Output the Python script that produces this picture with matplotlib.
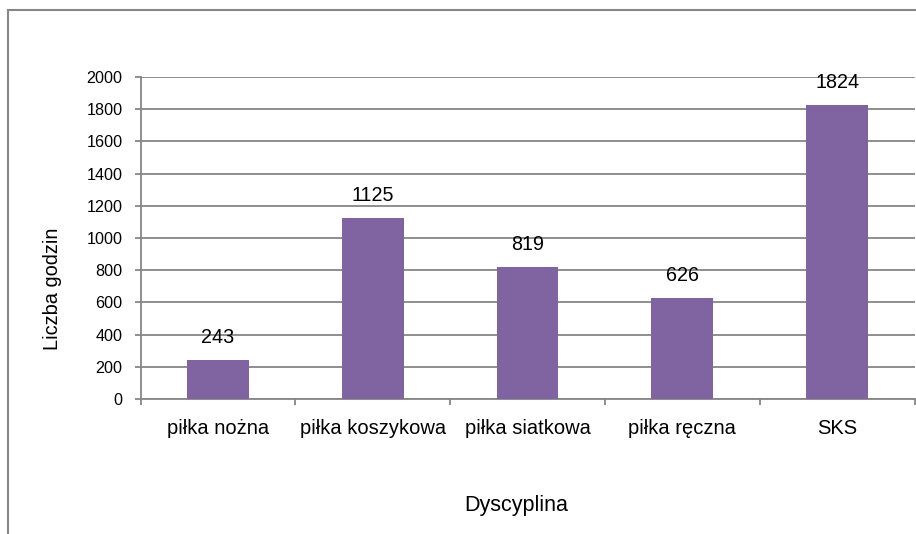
import matplotlib
matplotlib.use("Agg")
import matplotlib.pyplot as plt
from matplotlib.patches import Rectangle

categories = ["piłka nożna", "piłka koszykowa", "piłka siatkowa", "piłka ręczna", "SKS"]
values = [243, 1125, 819, 626, 1824]
yticks = [0, 200, 400, 600, 800, 1000, 1200, 1400, 1600, 1800, 2000]

plt.rcParams['font.family'] = ["Liberation Sans", "DejaVu Sans"]

W, H = 916, 534
fig = plt.figure(figsize=(W/100, H/100), dpi=100)
ax = fig.add_axes([140.5/W, 1-399/H, (914.5-140.5)/W, (399-77)/H])

grey = "#868686"
x = list(range(len(categories)))
ax.bar(x, values, width=0.4, color="#8064A2", zorder=3)
for xi, v in zip(x, values):
    ax.annotate(str(v), (xi, v), xytext=(0, 12.2), textcoords="offset points",
                ha="center", va="baseline", fontsize=14.2, color="black", zorder=4)

ax.set_xlim(-0.5, len(categories) - 0.5)
ax.set_ylim(0, 2000)
ax.set_yticks(yticks)
ax.set_yticklabels([str(t) for t in yticks], fontsize=11.6)
ax.yaxis.grid(True, color=grey, linewidth=1.3, zorder=0)
ax.set_xticks(x)
ax.set_xticklabels(categories, fontsize=14.5)
ax.set_xticks([i - 0.5 for i in range(len(categories) + 1)], minor=True)
ax.tick_params(axis='x', which='major', length=0, pad=14.4)
ax.tick_params(axis='x', which='minor', length=4.3, color=grey, width=1.3, direction='out')
ax.tick_params(axis='y', length=4.3, color=grey, width=1.3, direction='out', pad=8.5)
for s in ["top", "right"]:
    ax.spines[s].set_visible(False)
for s in ["left", "bottom"]:
    ax.spines[s].set_color(grey)
    ax.spines[s].set_linewidth(1.3)

fig.text(53/W, 1-289/H, "Liczba godzin", rotation=90, ha="center", va="center", fontsize=14.4)
fig.text(516/W, 1-506/H, "Dyscyplina", ha="center", va="center", fontsize=15.5)

# outer chart frame
fig.add_artist(Rectangle((7.5/W, -0.1), 1.2, 1 - 10.5/H + 0.1, transform=fig.transFigure,
                         fill=False, edgecolor=grey, linewidth=1.5))

fig.savefig("out.png", dpi=100)
